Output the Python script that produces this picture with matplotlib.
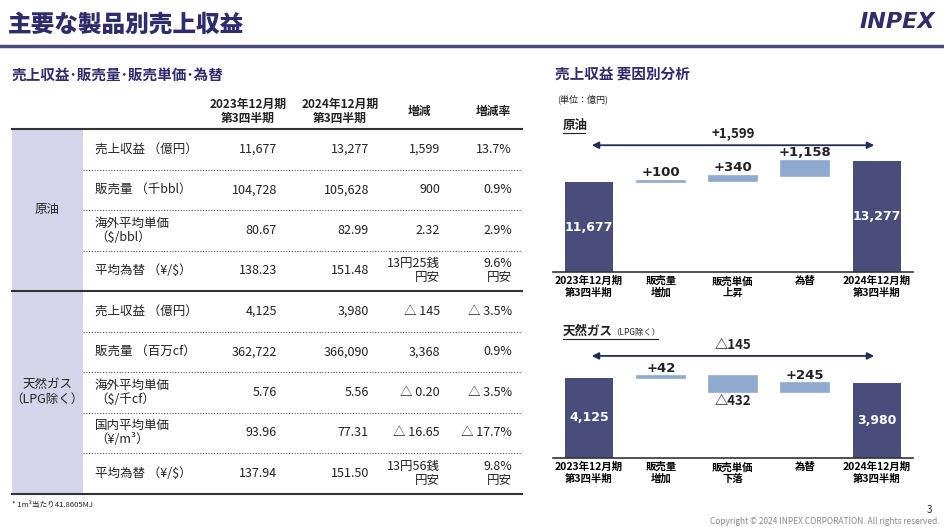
import matplotlib
matplotlib.use("Agg")
import matplotlib.pyplot as plt

plt.rcParams['font.family'] = ['Noto Sans CJK JP', 'DejaVu Sans']

W, H = 945, 527
NAVY = "#2f2c6e"
DARK = "#4a4c7c"
LIGHT = "#8fa9d0"
PURPLE_BG = "#d6d4ea"
TXT = "#222222"


def rect(x, y, w, h):
    return [x / W, 1 - (y + h) / H, w / W, h / H]


fig = plt.figure(figsize=(9.45, 5.27), dpi=100)
base = fig.add_axes([0, 0, 1, 1])
base.set_xlim(0, W)
base.set_ylim(H, 0)
base.axis("off")

# ==========================================
# HEADER
# ==========================================

base.text(8, 24, "主要な製品別売上収益", fontsize=17, fontweight="black",
          color=NAVY, va="center")
base.text(935, 22, "INPEX", fontsize=16, fontweight="bold", fontstyle="italic",
          color=NAVY, va="center", ha="right", family="DejaVu Sans")
base.plot([0, W], [46, 46], color="#4a4a7d", lw=2.5)

base.text(12, 75, "売上収益･販売量･販売単価･為替", fontsize=10.5, fontweight="bold",
          color=NAVY, va="center")
base.text(555, 75, "売上収益 要因別分析", fontsize=10.5, fontweight="bold",
          color=NAVY, va="center")
base.text(557, 99, "(単位：億円)", fontsize=6.5, color=TXT, va="center")

# ==========================================
# TABLE
# ==========================================

col_x = [277, 369, 440, 512]
headers = ["2023年12月期\n第3四半期", "2024年12月期\n第3四半期", "増減", "増減率"]
head_x = [248, 340, 420, 493]
for hx, h in zip(head_x, headers):
    base.text(hx, 111, h, fontsize=8.5, fontweight="bold", ha="center",
              va="center", color=TXT, linespacing=1.1)

oil_rows = [
    ["売上収益 （億円）", "11,677", "13,277", "1,599", "13.7%"],
    ["販売量 （千bbl）", "104,728", "105,628", "900", "0.9%"],
    ["海外平均単価\n（$/bbl）", "80.67", "82.99", "2.32", "2.9%"],
    ["平均為替 （¥/$）", "138.23", "151.48", "13円25銭\n円安", "9.6%\n円安"],
]
gas_rows = [
    ["売上収益 （億円）", "4,125", "3,980", "△ 145", "△ 3.5%"],
    ["販売量 （百万cf）", "362,722", "366,090", "3,368", "0.9%"],
    ["海外平均単価\n（$/千cf）", "5.76", "5.56", "△ 0.20", "△ 3.5%"],
    ["国内平均単価\n（¥/m³）", "93.96", "77.31", "△ 16.65", "△ 17.7%"],
    ["平均為替 （¥/$）", "137.94", "151.50", "13円56銭\n円安", "9.8%\n円安"],
]

sections = [("原油", oil_rows, 129), ("天然ガス\n（LPG除く）", gas_rows, 291)]
row_h = 40.5
base.plot([12, 522], [129, 129], color="#333333", lw=1.5)
for name, rows, top in sections:
    bottom = top + row_h * len(rows)
    base.add_patch(plt.Rectangle((12, top), 71, bottom - top,
                                 facecolor=PURPLE_BG, edgecolor="none"))
    base.text(47, (top + bottom) / 2, name, fontsize=9, ha="center",
              va="center", color=TXT, linespacing=1.2)
    for i, row in enumerate(rows):
        yc = top + row_h * (i + 0.5)
        base.text(95, yc, row[0], fontsize=9, va="center", color=TXT,
                  linespacing=1.1)
        for cx, val in zip(col_x, row[1:]):
            base.text(cx, yc, val, fontsize=9, va="center", ha="right",
                      color=TXT, linespacing=1.1, multialignment="right")
        if i < len(rows) - 1:
            base.plot([83, 522], [top + row_h * (i + 1)] * 2, color="#555555",
                      lw=0.8, ls=(0, (1, 1.5)))
    base.plot([12, 522], [bottom, bottom], color="#333333", lw=1.5)

base.text(12, 505, "* 1m³当たり41.8605MJ", fontsize=5.5, color=TXT, va="center")
base.text(932, 510, "3", fontsize=7, color=TXT, va="center", ha="right")
base.text(940, 522, "Copyright © 2024 INPEX CORPORATION. All rights reserved.",
          fontsize=6, color="#888888", va="center", ha="right")

# ==========================================
# WATERFALLS
# ==========================================


def waterfall(ax_rect, ylim, start, changes, end, labels, total_label,
              arrow_y, change_labels):
    ax = fig.add_axes(ax_rect)
    ax.set_xlim(-0.5, 4.5)
    ax.set_ylim(*ylim)
    ax.bar(0, start - ylim[0], bottom=ylim[0], width=0.667, color=DARK)
    ax.bar(4, end - ylim[0], bottom=ylim[0], width=0.667, color=DARK)
    level = start
    for i, (c, lab) in enumerate(zip(changes, change_labels), start=1):
        lo, hi = sorted([level, level + c])
        ax.bar(i, hi - lo, bottom=lo, width=0.667, color=LIGHT,
               edgecolor=LIGHT, lw=1.2)
        if c > 0:
            ax.text(i, hi + (ylim[1] - ylim[0]) * 0.015, lab, ha="center",
                    va="bottom", fontsize=9.5, fontweight="bold", color=TXT,
                    family="DejaVu Sans")
        else:
            ax.text(i, lo - (ylim[1] - ylim[0]) * 0.015, lab, ha="center",
                    va="top", fontsize=9.5, fontweight="bold", color=TXT)
        level += c
    for x, v in [(0, start), (4, end)]:
        ax.text(x, (v + ylim[0]) / 2, f"{v:,}", ha="center", va="center",
                fontsize=9, fontweight="bold", color="white",
                family="DejaVu Sans")
    ax.annotate("", xy=(4, arrow_y), xytext=(0, arrow_y),
                arrowprops=dict(arrowstyle="<|-|>", color="#1f2d5c", lw=1.3,
                                mutation_scale=10))
    ax.text(2, arrow_y + (ylim[1] - ylim[0]) * 0.03, total_label, ha="center",
            va="bottom", fontsize=9.5, fontweight="bold", color=TXT)
    ax.set_xticks(range(5))
    ax.set_xticklabels(labels, fontsize=7.5, fontweight="bold", linespacing=1.15)
    ax.tick_params(length=0, pad=3)
    ax.set_yticks([])
    for s in ["top", "right", "left"]:
        ax.spines[s].set_visible(False)
    ax.spines["bottom"].set_color("#333333")
    ax.spines["bottom"].set_linewidth(1.2)
    ax.set_facecolor("none")
    return ax


base.text(563, 125, "原油", fontsize=9, fontweight="bold", color=TXT, va="center")
base.plot([563, 585], [133, 133], color=TXT, lw=0.8)
waterfall(rect(553, 140, 360, 132), (4800, 14900), 11677, [100, 340, 1158],
          13277,
          ["2023年12月期\n第3四半期", "販売量\n増加", "販売単価\n上昇", "為替",
           "2024年12月期\n第3四半期"],
          "+1,599", 14500, ["+100", "+340", "+1,158"])

base.text(563, 331, "天然ガス", fontsize=9, fontweight="bold", color=TXT,
          va="center")
base.text(611, 332, "（LPG除く）", fontsize=6, color=TXT, va="center")
base.plot([563, 658], [339, 339], color=TXT, lw=0.8)
waterfall(rect(553, 340, 360, 118), (1963, 5150), 4125, [42, -432, 245], 3980,
          ["2023年12月期\n第3四半期", "販売量\n増加", "販売単価\n下落", "為替",
           "2024年12月期\n第3四半期"],
          "△145", 4720, ["+42", "△432", "+245"])

fig.savefig("out.png", dpi=100)
